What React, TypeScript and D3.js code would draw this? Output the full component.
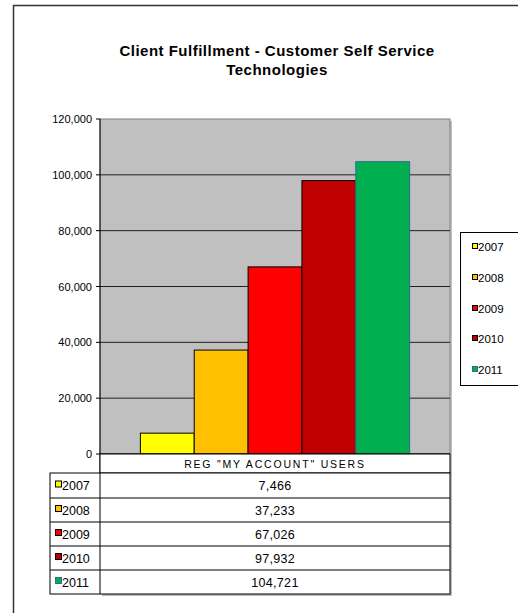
import React from "react";
import * as d3 from "d3";

const years = ["2007", "2008", "2009", "2010", "2011"];
const values = [7466, 37233, 67026, 97932, 104721];
const valueLabels = ["7,466", "37,233", "67,026", "97,932", "104,721"];
const colors = ["#FFFF00", "#FFC000", "#FF0000", "#C00000", "#00B050"];
const strokes = ["#000", "#000", "#000", "#000", "#2E6E8E"];
const yTicks = [0, 20000, 40000, 60000, 80000, 100000, 120000];
const categoryLabel = 'REG "MY ACCOUNT" USERS';
const titleLines = ["Client Fulfillment - Customer Self Service", "Technologies"];

export default function App() {
  const W = 518, H = 613;
  const plotL = 100, plotR = 450, plotT = 119, plotB = 454;
  const y = d3.scaleLinear().domain([0, 120000]).range([plotB, plotT]);
  const barW = (plotR - plotL) / (years.length + 1.5);
  const x = d3.scaleBand().domain(years)
    .range([plotL + 0.75 * barW, plotR - 0.75 * barW]).padding(0);
  const fmt = d3.format(",");
  const font = "'Liberation Sans', Arial, sans-serif";
  const rowY = [473, 498, 522, 546, 570, 594];
  const legendY = [247, 278, 309, 339, 370];

  return (
    <svg width={W} height={H} style={{ position: "absolute", left: 0, top: 0 }} fontFamily={font}>
      <rect x={0} y={0} width={W} height={H} fill="#fff" />
      {/* outer border */}
      <path d={`M13.5,${H} V5.5 H${W}`} fill="none" stroke="#333" strokeWidth={1.5} />
      {/* title */}
      {titleLines.map((t, i) => (
        <text key={i} x={277} y={56 + i * 19} textAnchor="middle" fontWeight="bold" fontSize={15} letterSpacing={0.5} fill="#000">{t}</text>
      ))}
      {/* plot area */}
      <rect x={plotL + 2} y={plotT + 2} width={plotR - plotL} height={plotB - plotT} fill="#999" opacity={0.6} />
      <rect x={plotL} y={plotT} width={plotR - plotL} height={plotB - plotT} fill="#C0C0C0" stroke="#808080" strokeWidth={1} />
      {yTicks.slice(1, -1).map((t) => (
        <line key={t} x1={plotL} x2={plotR} y1={y(t)} y2={y(t)} stroke="#222" strokeWidth={1} />
      ))}
      {years.map((yr, i) => (
        <rect key={yr} x={x(yr)!} y={y(values[i])} width={x.bandwidth()} height={plotB - y(values[i])}
          fill={colors[i]} stroke={strokes[i]} strokeWidth={1} />
      ))}
      {/* y axis */}
      <line x1={plotL} x2={plotL} y1={plotT} y2={rowY[rowY.length - 1]} stroke="#000" strokeWidth={1} />
      {yTicks.map((t) => (
        <g key={t}>
          <line x1={plotL - 4} x2={plotL} y1={y(t)} y2={y(t)} stroke="#000" />
          <text x={plotL - 8} y={y(t) + 4} textAnchor="end" fontSize={11} fill="#000">{fmt(t)}</text>
        </g>
      ))}
      {/* data table */}
      <line x1={plotL} x2={plotR} y1={plotB} y2={plotB} stroke="#000" />
      <rect x={plotL + 2} y={plotB + 2} width={plotR - plotL} height={rowY[5] - plotB} fill="#777" opacity={0.5} />
      <rect x={plotL} y={plotB} width={plotR - plotL} height={rowY[0] - plotB} fill="#fff" stroke="#000" />
      <rect x={50} y={rowY[0]} width={plotR - 50} height={rowY[5] - rowY[0]} fill="#fff" stroke="#000" />
      <text x={(plotL + plotR) / 2} y={plotB + 14} textAnchor="middle" fontSize={10.5} letterSpacing={1.8} fill="#000">{categoryLabel}</text>
      <line x1={plotL} x2={plotL} y1={rowY[0]} y2={rowY[5]} stroke="#000" />
      {years.map((yr, i) => (
        <g key={yr}>
          {i > 0 && <line x1={50} x2={plotR} y1={rowY[i]} y2={rowY[i]} stroke="#000" />}
          <rect x={55.5} y={(rowY[i] + rowY[i + 1]) / 2 - 4.5} width={6} height={6} fill={colors[i]} stroke={strokes[i]} />
          <text x={62} y={(rowY[i] + rowY[i + 1]) / 2 + 4.5} fontSize={12.5} fill="#000">{yr}</text>
          <text x={(plotL + plotR) / 2} y={(rowY[i] + rowY[i + 1]) / 2 + 4.5} textAnchor="middle" fontSize={12.5} letterSpacing={0.3} fill="#000">{valueLabels[i]}</text>
        </g>
      ))}
      {/* legend */}
      <rect x={460.5} y={232.5} width={70} height={153} fill="#fff" stroke="#000" />
      {years.map((yr, i) => (
        <g key={yr}>
          <rect x={472.5} y={legendY[i] - 3.5} width={5} height={5} fill={colors[i]} stroke={strokes[i]} />
          <text x={478} y={legendY[i] + 4} fontSize={11.5} fill="#000">{yr}</text>
        </g>
      ))}
    </svg>
  );
}
